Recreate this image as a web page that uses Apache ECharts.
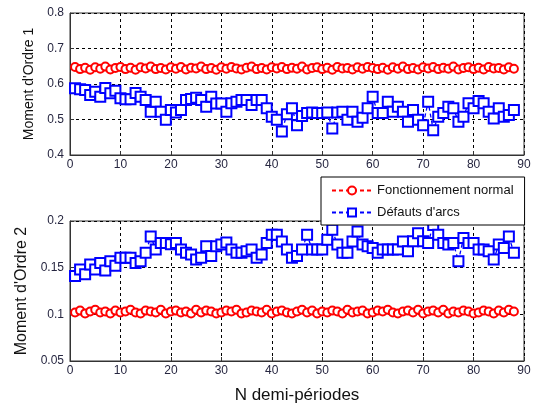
<!DOCTYPE html>
<html>
<head>
<meta charset="utf-8">
<script src="https://cdn.jsdelivr.net/npm/echarts@6/dist/echarts.min.js"></script>
<style>
html,body{margin:0;padding:0;background:#fff;}
#chart{width:534px;height:405px;}
</style>
</head>
<body>
<div id="chart"></div>
<script>
// ---- data ----
var seriesNames = ['Fonctionnement normal', 'D\u00e9fauts d\'arcs'];
var xTicks = [0, 10, 20, 30, 40, 50, 60, 70, 80, 90];
var yTicks1 = [0.4, 0.5, 0.6, 0.7, 0.8];
var yTicks2 = [0.05, 0.1, 0.15, 0.2];

var normal1 = [
  0.648,0.642,0.646,0.640,0.647,0.643,0.649,0.641,0.645,0.648,
  0.642,0.646,0.640,0.647,0.644,0.649,0.642,0.645,0.641,0.647,
  0.643,0.648,0.641,0.646,0.644,0.649,0.642,0.645,0.640,0.647,
  0.643,0.648,0.644,0.641,0.646,0.649,0.642,0.645,0.641,0.647,
  0.644,0.648,0.642,0.646,0.643,0.649,0.641,0.645,0.647,0.642,
  0.646,0.640,0.648,0.644,0.645,0.641,0.647,0.643,0.648,0.645,
  0.642,0.646,0.640,0.647,0.643,0.649,0.642,0.645,0.641,0.647,
  0.644,0.648,0.642,0.646,0.643,0.649,0.641,0.645,0.647,0.642,
  0.646,0.641,0.648,0.644,0.645,0.641,0.647,0.643
];
var arc1 = [
  0.588,0.585,0.583,0.569,0.578,0.564,0.589,0.574,0.581,0.560,
  0.557,0.557,0.575,0.564,0.555,0.522,0.550,0.522,0.499,0.527,
  0.520,0.527,0.555,0.558,0.561,0.555,0.536,0.564,0.545,0.545,
  0.522,0.546,0.550,0.555,0.555,0.541,0.555,0.555,0.532,0.508,
  0.499,0.466,0.515,0.532,0.484,0.510,0.518,0.520,0.518,0.518,
  0.520,0.475,0.520,0.522,0.499,0.522,0.494,0.505,0.532,0.564,
  0.518,0.518,0.550,0.522,0.536,0.522,0.494,0.527,0.499,0.484,
  0.550,0.470,0.508,0.518,0.536,0.532,0.494,0.508,0.546,0.532,
  0.552,0.546,0.522,0.503,0.532,0.508,0.513,0.527
];
var normal2 = [
  0.102,0.104,0.101,0.103,0.105,0.102,0.103,0.101,0.104,0.102,
  0.103,0.105,0.102,0.101,0.104,0.103,0.102,0.105,0.101,0.103,
  0.104,0.102,0.103,0.101,0.105,0.102,0.104,0.103,0.101,0.102,
  0.104,0.103,0.105,0.101,0.102,0.104,0.103,0.102,0.105,0.101,
  0.103,0.104,0.102,0.101,0.103,0.105,0.102,0.104,0.101,0.103,
  0.102,0.104,0.103,0.101,0.105,0.102,0.103,0.104,0.101,0.102,
  0.104,0.103,0.105,0.102,0.101,0.103,0.104,0.102,0.105,0.101,
  0.103,0.104,0.102,0.105,0.101,0.103,0.102,0.104,0.103,0.101,
  0.102,0.104,0.103,0.101,0.104,0.102,0.105,0.103
];
var arc2 = [
  0.141,0.148,0.143,0.1535,0.148,0.155,0.147,0.157,0.152,0.1606,
  0.1606,0.1606,0.155,0.157,0.166,0.1834,0.1694,0.1764,0.1764,0.175,
  0.1764,0.1694,0.166,0.1642,0.1588,0.1606,0.1729,0.1624,0.1729,0.1747,
  0.177,0.1694,0.166,0.166,0.1676,0.1694,0.1606,0.1642,0.1764,0.1852,
  0.1852,0.178,0.1694,0.1606,0.1624,0.1694,0.1852,0.1694,0.1694,0.1694,
  0.18,0.1905,0.1747,0.166,0.166,0.178,0.1887,0.1747,0.1729,0.1712,
  0.166,0.1694,0.1694,0.1694,0.1694,0.178,0.1676,0.1782,0.187,0.1782,
  0.1764,0.1958,0.1852,0.1764,0.1747,0.1764,0.157,0.1817,0.1764,0.1764,
  0.1694,0.1694,0.1676,0.1588,0.1747,0.1712,0.1834,0.166
];
// half-period index N = 1..88
var nIndex = normal1.map(function (_, i) { return i + 1; });

function pairs(vals) { return vals.map(function (v, i) { return [nIndex[i], v]; }); }

var FONT = "'Liberation Sans', Arial, sans-serif";
var TICKCOL = '#262640';

function xAxisCfg(gridIndex, name) {
  return {
    type: 'value', gridIndex: gridIndex, min: xTicks[0], max: xTicks[xTicks.length - 1],
    interval: xTicks[1] - xTicks[0],
    name: name || '', nameLocation: 'middle', nameGap: 26,
    nameTextStyle: { fontFamily: FONT, fontSize: 17, color: '#111' },
    axisLine: { show: true, lineStyle: { color: '#333', width: 1 } },
    axisTick: { show: true, inside: true, length: 4, lineStyle: { color: '#333' } },
    axisLabel: { fontFamily: FONT, fontSize: 12, color: TICKCOL, margin: 4 },
    splitLine: { show: true, lineStyle: { color: '#000', width: 1, type: [3, 3] } }
  };
}
function yAxisCfg(gridIndex, ticks, name, size, gap) {
  return {
    type: 'value', gridIndex: gridIndex, min: ticks[0], max: ticks[ticks.length - 1],
    interval: ticks[1] - ticks[0],
    name: name, nameLocation: 'middle', nameGap: gap, nameRotate: 90,
    nameTextStyle: { fontFamily: FONT, fontSize: size, color: '#111' },
    axisLine: { show: true, lineStyle: { color: '#333', width: 1 } },
    axisTick: { show: true, inside: true, length: 4, lineStyle: { color: '#333' } },
    axisLabel: { fontFamily: FONT, fontSize: 12, color: TICKCOL, margin: 6,
      formatter: function (v) { return String(parseFloat(v.toFixed(3))); } },
    splitLine: { show: true, lineStyle: { color: '#000', width: 1, type: [3, 3] } }
  };
}
function redSeries(idx, vals) {
  return {
    name: seriesNames[0], type: 'line', xAxisIndex: idx, yAxisIndex: idx,
    data: pairs(vals), symbol: 'emptyCircle', symbolSize: 8,
    lineStyle: { color: '#ff0000', width: 1.3, type: [4, 3] },
    itemStyle: { color: '#ff0000', borderColor: '#ff0000', borderWidth: 1.5 },
    animation: false, z: 3
  };
}
function blueSeries(idx, vals) {
  return {
    name: seriesNames[1], type: 'line', xAxisIndex: idx, yAxisIndex: idx,
    data: pairs(vals), symbol: 'emptyRect', symbolSize: 10,
    lineStyle: { color: '#0000ff', width: 1.3, type: [4, 3] },
    itemStyle: { color: '#0000ff', borderColor: '#0000ff', borderWidth: 2 },
    animation: false, z: 3
  };
}

var chart = echarts.init(document.getElementById('chart'), null, { renderer: 'canvas' });
chart.setOption({
  backgroundColor: '#fff',
  animation: false,
  grid: [
    { left: 70, right: 10, top: 13, height: 142, show: true, borderColor: '#333', borderWidth: 1, backgroundColor: '#fff' },
    { left: 70, right: 10, top: 221, height: 142, show: true, borderColor: '#333', borderWidth: 1, backgroundColor: '#fff' }
  ],
  xAxis: [xAxisCfg(0), xAxisCfg(1, 'N demi-p\u00e9riodes')],
  yAxis: [
    yAxisCfg(0, yTicks1, 'Moment d\'Ordre 1', 14, 33),
    yAxisCfg(1, yTicks2, 'Moment d\'Ordre 2', 16, 35)
  ],
  legend: {
    data: seriesNames, orient: 'vertical', left: 321, top: 177,
    backgroundColor: '#fff', borderColor: '#000', borderWidth: 1,
    padding: [7, 11, 6, 10], itemGap: 9, itemWidth: 40, itemHeight: 10,
    textStyle: { fontFamily: FONT, fontSize: 13, color: '#111' },
    z: 10
  },
  series: [
    redSeries(0, normal1), blueSeries(0, arc1),
    redSeries(1, normal2), blueSeries(1, arc2)
  ]
});
</script>
</body>
</html>
